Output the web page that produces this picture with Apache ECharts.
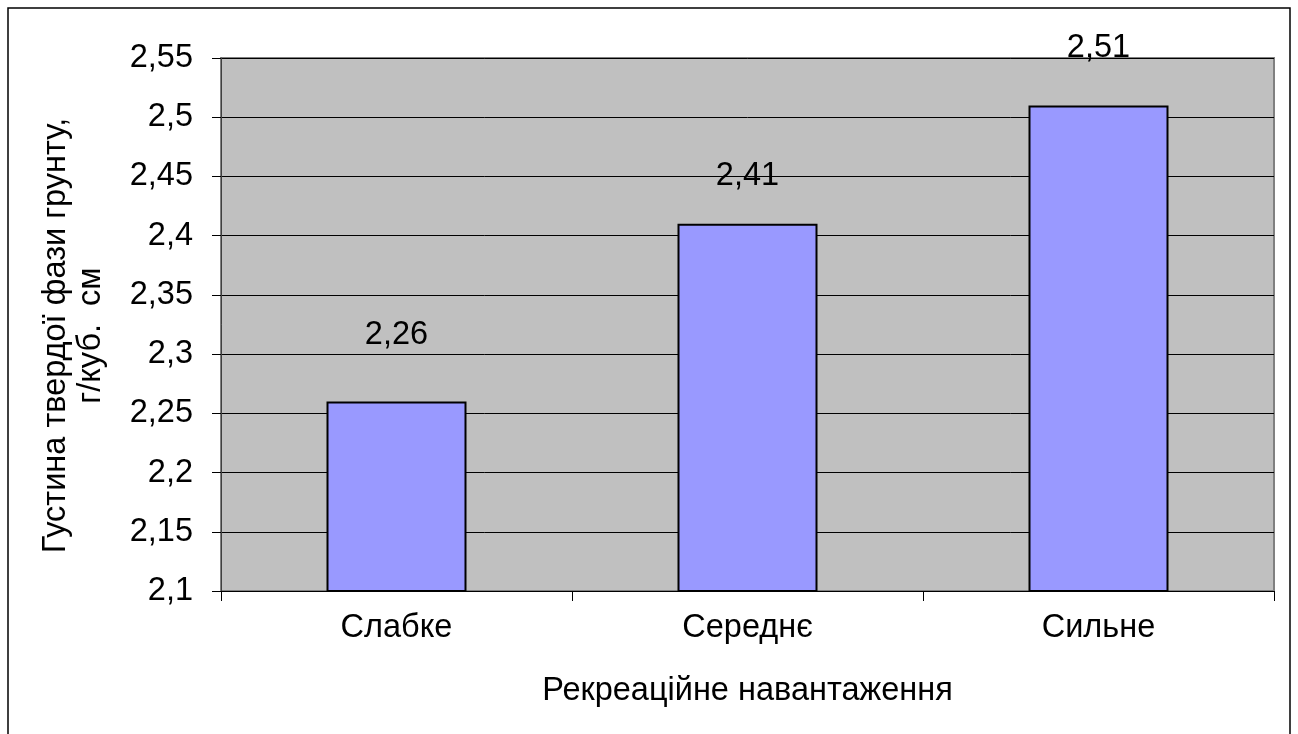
<!DOCTYPE html>
<html>
<head>
<meta charset="utf-8">
<script src="https://cdn.jsdelivr.net/npm/echarts@6/dist/echarts.min.js"></script>
<style>
  html, body { margin: 0; padding: 0; background: #ffffff; }
  #chart { width: 1298px; height: 734px; }
</style>
</head>
<body>
<div id="chart"></div>
<script>
// Recreational load levels and soil solid-phase density (g/cm³)
const categories = ['Слабке', 'Середнє', 'Сильне'];
const densityValues = [2.26, 2.41, 2.51];
const yTickLabels = ['2,1', '2,15', '2,2', '2,25', '2,3', '2,35', '2,4', '2,45', '2,5', '2,55'];

// Gap between each bar top and its value label
const labelGap = [50, 31, 41];

const FONT = '"Liberation Sans", Arial, sans-serif';
const FS = 32.5;
const toComma = v => String(v).replace('.', ',');

const chart = echarts.init(document.getElementById('chart'));
chart.setOption({
  animation: false,
  backgroundColor: '#ffffff',
  textStyle: { fontFamily: FONT },
  graphic: [{
    type: 'rect',
    shape: { x: 8, y: 8, width: 1282, height: 760 },
    style: { fill: 'none', stroke: '#000000', lineWidth: 1.5 },
    silent: true
  }],
  grid: {
    left: 221, right: 24, top: 58, bottom: 143,
    show: true,
    backgroundColor: '#C0C0C0',
    borderColor: '#808080',
    borderWidth: 2
  },
  xAxis: {
    type: 'category',
    data: categories,
    name: 'Рекреаційне навантаження',
    nameLocation: 'middle',
    nameGap: 84,
    nameTextStyle: { fontSize: FS, color: '#000', fontFamily: FONT },
    axisLine: { show: true, lineStyle: { color: '#000', width: 1 } },
    axisTick: { show: true, length: 10, lineStyle: { color: '#000' } },
    axisLabel: { fontSize: FS, color: '#000', margin: 21, fontFamily: FONT },
    splitLine: { show: false }
  },
  yAxis: {
    type: 'value',
    min: 2.1,
    max: 2.55,
    interval: 0.05,
    name: 'Густина твердої фази грунту,\nг/куб.  см',
    nameLocation: 'middle',
    nameGap: 112,
    nameTextStyle: {
      fontSize: FS, color: '#000', lineHeight: 35, fontFamily: FONT,
      padding: [0, 22, 0, 0]
    },
    axisLine: { show: true, lineStyle: { color: '#404040', width: 1 } },
    axisTick: { show: true, length: 9, lineStyle: { color: '#000' } },
    axisLabel: {
      fontSize: FS, color: '#000', margin: 28, fontFamily: FONT,
      formatter: (v, i) => yTickLabels[i]
    },
    splitLine: { show: true, lineStyle: { color: '#000', width: 1 } }
  },
  series: [{
    type: 'bar',
    barWidth: 140,
    data: densityValues.map((v, i) => ({
      value: v,
      label: { distance: labelGap[i] }
    })),
    itemStyle: { color: '#9999FF', borderColor: '#000', borderWidth: 2 },
    label: {
      show: true,
      position: 'top',
      fontSize: FS,
      color: '#000',
      fontFamily: FONT,
      formatter: p => toComma(p.value)
    }
  }]
});
</script>
</body>
</html>
